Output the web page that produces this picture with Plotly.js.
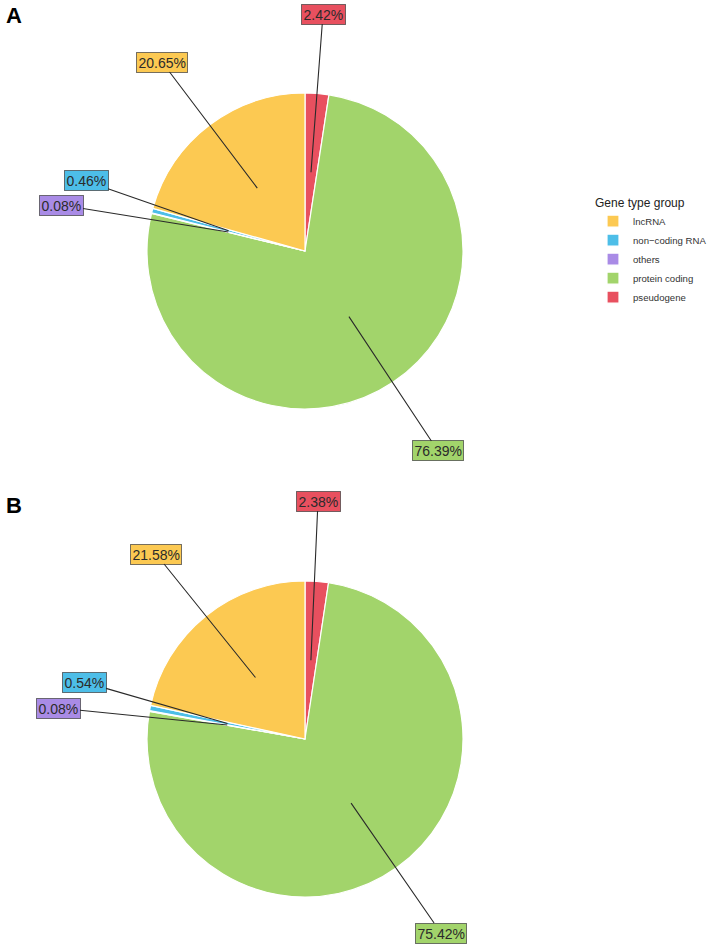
<!DOCTYPE html>
<html>
<head>
<meta charset="utf-8">
<script src="https://cdn.plot.ly/plotly-3.0.1.min.js"></script>
<style>html,body{margin:0;padding:0;background:#fff;}#chart{width:708px;height:945px;}</style>
</head>
<body>
<div id="chart"></div>
<script>
// ---- data ----
const categories = ["lncRNA", "non\u2212coding RNA", "others", "protein coding", "pseudogene"];
const valuesA = [20.65, 0.46, 0.08, 76.39, 2.42];
const valuesB = [21.58, 0.54, 0.08, 75.42, 2.38];
const panelTags = ["A", "B"];
const legendTitle = "Gene type group";

// ---- styles / layout ----
const colors = ["#FCC952", "#4DBEE8", "#A98BE6", "#A2D46B", "#E8505F"];
const W = 708, H = 945;
const pies = [
  {cx: 305, cy: 251, R: 158, values: valuesA, legend: "legend",
   labelPos: [[162, 62], [86, 181], [61, 205], [438, 451], [323, 14]]},
  {cx: 305, cy: 739, R: 158, values: valuesB, legend: "legend2",
   labelPos: [[156, 554], [84, 682], [58, 708], [441, 933], [318, 501]]}
];

const traces = [];
const annotations = [];
pies.forEach((p, k) => {
  // slices run counterclockwise from 12 o'clock in category order;
  // drawn clockwise with the order reversed to get the same arrangement
  traces.push({
    type: "pie",
    labels: categories.slice().reverse(),
    values: p.values.slice().reverse(),
    marker: {colors: colors.slice().reverse(), line: {color: "#ffffff", width: 1.2}},
    sort: false,
    direction: "clockwise",
    rotation: 0,
    textinfo: "none",
    hoverinfo: "none",
    domain: {x: [(p.cx - p.R) / W, (p.cx + p.R) / W], y: [1 - (p.cy + p.R) / H, 1 - (p.cy - p.R) / H]},
    legend: p.legend,
    showlegend: true
  });
  const total = p.values.reduce((a, b) => a + b, 0);
  let cum = 0;
  p.values.forEach((v, i) => {
    const mid = (cum + v / 2) / total;
    cum += v;
    const th = mid * 2 * Math.PI;
    const hx = p.cx - 0.5 * p.R * Math.sin(th);
    const hy = p.cy - 0.5 * p.R * Math.cos(th);
    const [lx, ly] = p.labelPos[i];
    annotations.push({
      xref: "paper", yref: "paper",
      x: hx / W, y: 1 - hy / H,
      ax: lx - hx, ay: ly - hy,
      text: v.toFixed(2) + "%",
      showarrow: true, arrowhead: 0, arrowwidth: 1.1, arrowcolor: "#2a2a2a", standoff: 0,
      bgcolor: colors[i], bordercolor: "rgba(60,60,60,0.7)", borderwidth: 1, borderpad: 1.5,
      font: {family: "Liberation Sans, Arial, sans-serif", size: 14, color: "#2b2b2b"}
    });
  });
});

panelTags.forEach((t, k) => {
  annotations.push({
    xref: "paper", yref: "paper", x: 4 / W, y: 1 - (k === 0 ? 16 : 505) / H,
    xanchor: "left", yanchor: "middle", showarrow: false,
    text: "<b>" + t + "</b>",
    font: {family: "Liberation Sans, Arial, sans-serif", size: 22, color: "#000"}
  });
});

const legendBase = {
  xanchor: "left", yanchor: "top", bgcolor: "rgba(0,0,0,0)",
  traceorder: "reversed",
  title: {text: legendTitle, font: {family: "Liberation Sans, Arial, sans-serif", size: 12, color: "#222"}},
  font: {family: "Liberation Sans, Arial, sans-serif", size: 9.6, color: "#333"},
  itemwidth: 30, tracegroupgap: 0
};

const layout = {
  width: W, height: H,
  margin: {l: 0, r: 0, t: 0, b: 0, autoexpand: false},
  paper_bgcolor: "#fff",
  showlegend: true,
  legend: Object.assign({}, legendBase, {x: 593 / W, y: 1 - 191 / H}),
  legend2: Object.assign({}, legendBase, {x: 593 / W, y: 1 - 679 / H}),
  annotations: annotations
};

Plotly.newPlot("chart", traces, layout, {displayModeBar: false, staticPlot: true});
</script>
</body>
</html>
